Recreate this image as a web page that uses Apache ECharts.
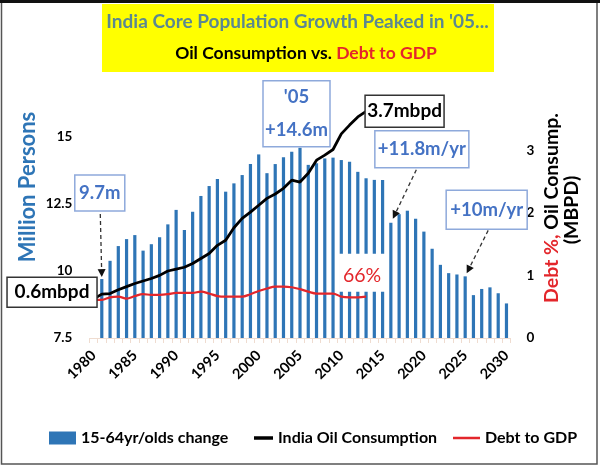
<!DOCTYPE html>
<html><head><meta charset="utf-8">
<script src="https://cdn.jsdelivr.net/npm/echarts@6/dist/echarts.min.js"></script>
<style>html,body{margin:0;padding:0;background:#fff}#c{width:600px;height:467px}</style>
</head><body><div id="c"></div>
<script>
// ---------- DATA ----------
const years = ['1980','1981','1982','1983','1984','1985','1986','1987','1988','1989',
  '1990','1991','1992','1993','1994','1995','1996','1997','1998','1999',
  '2000','2001','2002','2003','2004','2005','2006','2007','2008','2009',
  '2010','2011','2012','2013','2014','2015','2016','2017','2018','2019',
  '2020','2021','2022','2023','2024','2025','2026','2027','2028','2029','2030'];
// 15-64yr/olds yearly change, million persons (1980 has no bar)
const popChange = [null,
  9.7, 10.38, 10.93, 11.19, 11.34, 10.76, 11.0, 11.26, 11.74, 12.28,
  11.53, 12.21, 12.80, 13.17, 13.43, 12.96, 13.27, 13.58, 13.99, 14.35,
  13.65, 13.99, 14.24, 14.45, 14.6, 13.96, 14.02, 14.2, 14.23, 14.14,
  14.08, 13.7, 13.46, 13.4, 13.4, 11.8, 12.12, 12.25, 11.95, 11.47,
  10.83, 10.23, 9.92, 9.87, 9.8, 9.1, 9.33, 9.39, 9.17, 8.79];
// India oil consumption, mbpd (1980-2013)
const oil = [0.62, 0.70, 0.71, 0.77, 0.82, 0.87, 0.91, 0.95, 1.00, 1.07,
  1.10, 1.13, 1.19, 1.27, 1.35, 1.48, 1.56, 1.76, 1.91, 2.01,
  2.12, 2.23, 2.30, 2.39, 2.52, 2.49, 2.63, 2.84, 2.92, 3.01,
  3.26, 3.40, 3.53, 3.62];
// Debt to GDP as fraction (1980-2013)
const debt = [0.61, 0.61, 0.65, 0.66, 0.63, 0.67, 0.70, 0.69, 0.69, 0.70,
  0.72, 0.72, 0.72, 0.74, 0.71, 0.67, 0.66, 0.66, 0.66, 0.70,
  0.75, 0.79, 0.82, 0.82, 0.81, 0.78, 0.74, 0.71, 0.71, 0.71,
  0.66, 0.65, 0.65, 0.66];
const leftTicks = [7.5, 10, 12.5, 15];
const rightTicks = [0, 1, 2, 3];
const seriesNames = ['15-64yr/olds change', 'India Oil Consumption', 'Debt to GDP'];

// ---------- HELPERS ----------
const FAM = 'Lato';
const mctx = document.createElement('canvas').getContext('2d');
function fit(text, target, weight) {
  mctx.font = (weight || 'bold') + ' 20px ' + FAM;
  const w = mctx.measureText(text).width;
  return Math.round(20 * target / w * 2) / 2;
}
const pad = (arr, n) => arr.concat(new Array(n - arr.length).fill(null));

const BLUE_BAR = '#2E75B6';
const RED = '#E3262B';
const ANN_BLUE = '#4472C4';
const ANN_BORDER = '#8EA9DB';

const chart = echarts.init(document.getElementById('c'), null, {renderer: 'canvas'});
const axisFs = fit('12.5', 27);
const legendFs = fit('15-64yr/olds change', 146);
const legendText = {fontSize: legendFs, fontWeight: 'bold', color: '#000', fontFamily: FAM};

const option = {
  animation: false,
  backgroundColor: '#fff',
  textStyle: {fontFamily: FAM},
  grid: {left: 89.4, right: 89.4, top: 70, bottom: 129, containLabel: false},
  xAxis: {
    type: 'category', data: years, boundaryGap: true,
    axisLine: {show: true, lineStyle: {color: '#EFDCD0', width: 1}},
    axisTick: {show: true, interval: 0, length: 5, lineStyle: {color: '#EFDCD0'}},
    axisLabel: {interval: 4, rotate: 45, fontSize: 14.5, fontWeight: 'bold', color: '#000', margin: 15, fontFamily: FAM},
    splitLine: {show: false}
  },
  yAxis: [
    {type: 'value', position: 'left', min: 7.5, max: 17.5, interval: 2.5,
     axisLine: {show: false}, axisTick: {show: false}, splitLine: {show: false},
     axisLabel: {margin: 17, fontSize: axisFs, fontWeight: 'bold', color: '#000', fontFamily: FAM,
       formatter: v => leftTicks.includes(v) ? String(v) : ''}},
    {type: 'value', position: 'right', min: 0, max: 4.28, interval: 1,
     axisLine: {show: false}, axisTick: {show: false}, splitLine: {show: false},
     axisLabel: {margin: 16, fontSize: axisFs, fontWeight: 'bold', color: '#000', fontFamily: FAM,
       formatter: v => rightTicks.includes(v) ? String(v) : ''}}
  ],
  legend: [
    {data: [{name: seriesNames[0], icon: 'rect'}], left: 44, top: 425, itemWidth: 27, itemHeight: 13,
     textStyle: legendText, selectedMode: false},
    {data: [{name: seriesNames[1], icon: 'rect'}], left: 249, top: 425, itemWidth: 19, itemHeight: 3.5,
     textStyle: legendText, selectedMode: false},
    {data: [{name: seriesNames[2], icon: 'rect'}], left: 448, top: 425, itemWidth: 27, itemHeight: 2.5,
     textStyle: legendText, selectedMode: false}
  ],
  series: [
    {name: seriesNames[0], type: 'bar', yAxisIndex: 0, data: popChange, barWidth: 3.2,
     itemStyle: {color: BLUE_BAR}, clip: true, z: 2},
    {name: seriesNames[1], type: 'line', yAxisIndex: 1, data: pad(oil, years.length),
     symbol: 'none', lineStyle: {color: '#000', width: 2.8}, itemStyle: {color: '#000'}, z: 4},
    {name: seriesNames[2], type: 'line', yAxisIndex: 1, data: pad(debt, years.length), smooth: 0.35,
     symbol: 'none', lineStyle: {color: RED, width: 2.2}, itemStyle: {color: RED}, z: 3}
  ]
};
chart.setOption(option);

// ---------- ANNOTATIONS (anchored to data via convertToPixel) ----------
const P = (seriesIndex, i, v) => chart.convertToPixel({seriesIndex: seriesIndex}, [i, v]);
const G = [];
function box(x1, y1, x2, y2, stroke, lines, color, fs, bold) {
  G.push({type: 'rect', z: 100, shape: {x: x1, y: y1, width: x2 - x1, height: y2 - y1},
    style: {fill: '#fff', stroke: stroke, lineWidth: 1.5}});
  const n = lines.length, h = (y2 - y1) / n;
  lines.forEach((t, k) => G.push({type: 'text', z: 101, x: (x1 + x2) / 2, y: y1 + h * (k + 0.5),
    style: {text: t, fill: color, fontSize: fs, fontWeight: bold ? 'bold' : 'normal', fontFamily: FAM,
      align: 'center', verticalAlign: 'middle'}}));
}
function arrow(x1, y1, x2, y2) {
  G.push({type: 'line', z: 100, shape: {x1: x1, y1: y1, x2: x2, y2: y2},
    style: {stroke: '#333', lineWidth: 1.3, lineDash: [4, 3]}});
  const a = Math.atan2(y2 - y1, x2 - x1), L = 8, W = 4;
  const bx = x2 - L * Math.cos(a), by = y2 - L * Math.sin(a);
  G.push({type: 'polygon', z: 100, shape: {points: [[x2, y2],
    [bx + W * Math.sin(a), by - W * Math.cos(a)], [bx - W * Math.sin(a), by + W * Math.cos(a)]]},
    style: {fill: '#111'}});
}
const blueFs = fit('+11.8m/yr', 88);
const blackFs = fit('3.7mbpd', 74);

// 9.7m on first bar (1981)
let [ax, ay] = P(0, 1, popChange[1]);
box(ax - 27, ay - 104, ax + 23, ay - 68, ANN_BORDER, ['9.7m'], ANN_BLUE, blueFs, true);
arrow(ax - 1.5, ay - 65, ax, ay - 2);
// 0.6mbpd at oil start (1980)
[ax, ay] = P(1, 0, oil[0]);
box(ax - 86.5, ay - 22, ax + 3.5, ay + 8, '#333', ['0.6mbpd'], '#000', blackFs, true);
// '05 +14.6m on 2005 bar
[ax, ay] = P(0, 25, popChange[25]);
box(ax - 37, ay - 67, ax + 30, ay - 1, ANN_BORDER, ["'05", '+14.6m'], ANN_BLUE, blueFs, true);
// 3.7mbpd at end of oil line (2013)
[ax, ay] = P(1, 33, oil[33]);
box(ax - 1, ay - 16, ax + 78, ay + 16, '#333', ['3.7mbpd'], '#000', blackFs, true);
// +11.8m/yr on 2016 bar
[ax, ay] = P(0, 36, popChange[36]);
box(ax - 16, ay - 92, ax + 78, ay - 55, ANN_BORDER, ['+11.8m/yr'], ANN_BLUE, blueFs, true);
arrow(ax + 25.5, ay - 53, ax + 2, ay - 4);
// +10m/yr on 2025 bar
[ax, ay] = P(0, 45, popChange[45]);
box(ax - 19, ay - 86, ax + 62, ay - 47, ANN_BORDER, ['+10m/yr'], ANN_BLUE, blueFs, true);
arrow(ax + 23, ay - 46, ax + 1.5, ay - 3);
// 66% at end of debt line (2013)
[ax, ay] = P(2, 33, debt[33]);
G.push({type: 'rect', z: 100, shape: {x: ax - 27, y: ay - 43, width: 48, height: 38}, style: {fill: '#fff'}});
G.push({type: 'text', z: 101, x: ax - 4, y: ay - 21, style: {text: '66%', fill: RED, fontSize: blueFs + 1,
  fontWeight: 'normal', fontFamily: FAM, align: 'center', verticalAlign: 'middle'}});

// ---------- TITLE, AXIS TITLES, FRAME ----------
const t1 = "India Core Population Growth Peaked in '05...";
const t1Fs = fit(t1, 381);
const t2Fs = fit('Oil Consumption vs. Debt to GDP', 262);
G.push({type: 'rect', z: 50, shape: {x: 102, y: 4, width: 392, height: 68}, style: {fill: '#FFFF00'}});
G.push({type: 'text', z: 51, x: 297.5, y: 22, style: {text: t1, fill: '#5B8891', fontSize: t1Fs,
  fontWeight: 'bold', fontFamily: FAM, align: 'center', verticalAlign: 'middle'}});
G.push({type: 'text', z: 51, x: 306, y: 53, style: {text: '{a|Oil Consumption vs. }{b|Debt to GDP}',
  fontFamily: FAM, align: 'center', verticalAlign: 'middle',
  rich: {a: {fill: '#000', fontSize: t2Fs, fontWeight: 'bold', fontFamily: FAM},
         b: {fill: RED, fontSize: t2Fs, fontWeight: 'bold', fontFamily: FAM}}}});
const lFs = fit('Million Persons', 149);
G.push({type: 'text', z: 51, x: 27.5, y: 187, rotation: Math.PI / 2, style: {text: 'Million Persons',
  fill: '#2E75B6', fontSize: lFs, fontWeight: 'bold', fontFamily: FAM, align: 'center', verticalAlign: 'middle'}});
const rFs = fit('Debt %, Oil Consump.', 189);
G.push({type: 'text', z: 51, x: 552, y: 208, rotation: Math.PI / 2, style: {text: '{a|Debt %,}{b| Oil Consump.}',
  fontFamily: FAM, align: 'center', verticalAlign: 'middle',
  rich: {a: {fill: RED, fontSize: rFs, fontWeight: 'bold', fontFamily: FAM},
         b: {fill: '#000', fontSize: rFs, fontWeight: 'bold', fontFamily: FAM}}}});
G.push({type: 'text', z: 51, x: 572, y: 210, rotation: Math.PI / 2, style: {text: '(MBPD)',
  fill: '#000', fontSize: rFs, fontWeight: 'bold', fontFamily: FAM, align: 'center', verticalAlign: 'middle'}});
G.push({type: 'rect', z: 60, shape: {x: 1.5, y: 1.5, width: 595.5, height: 462.5},
  style: {fill: 'none', stroke: '#555', lineWidth: 1.5}});
G.push({type: 'rect', z: 61, shape: {x: 0, y: 0, width: 600, height: 3}, style: {fill: '#111'}});

chart.setOption({graphic: G});
</script>
</body></html>
